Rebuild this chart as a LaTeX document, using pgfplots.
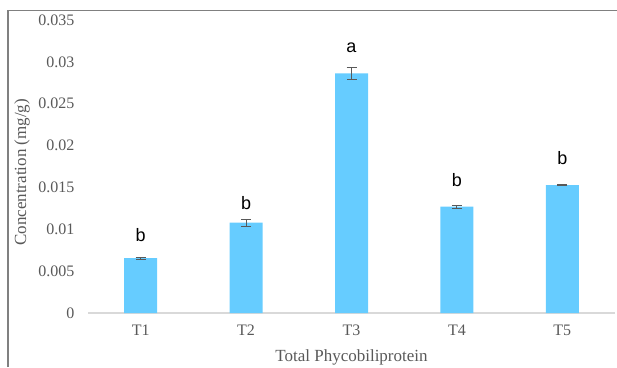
\documentclass[border=0pt]{standalone}
\usepackage{pgfplots}
\pgfplotsset{compat=1.18}
\usepackage{fontspec}
\setmainfont{Liberation Serif}
\newfontfamily\arial{Liberation Sans}
\definecolor{barblue}{RGB}{102,204,255}
\definecolor{txtgray}{RGB}{89,89,89}
\definecolor{axgray}{RGB}{217,217,217}
\definecolor{framegray}{RGB}{128,128,128}
\begin{document}
\begin{tikzpicture}
\path[use as bounding box] (0,0) rectangle (617pt,-367pt);
\draw[framegray, line width=1.5pt] (8pt,-367pt) -- (8pt,-10.5pt) -- (617pt,-10.5pt);
\begin{axis}[
  at={(88pt,-313pt)}, anchor=south west,
  scale only axis, width=527pt, height=293pt,
  xmin=0.5, xmax=5.5, ymin=0, ymax=0.035,
  scaled y ticks=false,
  xtick={1,2,3,4,5}, xticklabels={T1,T2,T3,T4,T5},
  ytick={0,0.005,0.01,0.015,0.02,0.025,0.03,0.035},
  yticklabels={0,0.005,0.01,0.015,0.02,0.025,0.03,0.035},
  axis x line*=bottom, axis y line*=left,
  y axis line style={draw=none},
  x axis line style={draw=axgray, line width=1.2pt, -},
  major tick length=0pt,
  tick label style={font=\fontsize{16}{18}\selectfont, text=txtgray},
  yticklabel style={xshift=-10pt},
  xticklabel style={yshift=-8pt},
  xlabel={Total Phycobiliprotein},
  ylabel={Concentration (mg/g)},
  label style={font=\fontsize{17}{19}\selectfont, text=txtgray},
  xlabel style={at={(axis description cs:0.5,-0.150)}, anchor=center},
  ylabel style={at={(axis description cs:-0.125,0.48)}, anchor=center},
  clip=false,
]
\addplot[ybar, bar width=33pt, fill=barblue, draw=none,
  error bars/.cd, y dir=both, y explicit,
  error bar style={draw=txtgray, line width=1pt},
  error mark options={rotate=90, mark size=5pt, draw=txtgray, line width=1pt}]
  coordinates {
  (1,0.00657) +- (0,0.00012)
  (2,0.01079) +- (0,0.0004)
  (3,0.02863) +- (0,0.00075)
  (4,0.0127) +- (0,0.0002)
  (5,0.01529) +- (0,0.00005)
  };
\addplot[draw=none, mark=none, nodes near coords, point meta=explicit symbolic,
  every node near coord/.style={anchor=center, font=\arial\fontsize{18}{20}\selectfont, text=black}]
  table[meta=lab] {
  x y lab
  1 0.0093 b
  2 0.01308 b
  3 0.03166 a
  4 0.0159 b
  5 0.01852 b
  };
\end{axis}
\end{tikzpicture}
\end{document}
